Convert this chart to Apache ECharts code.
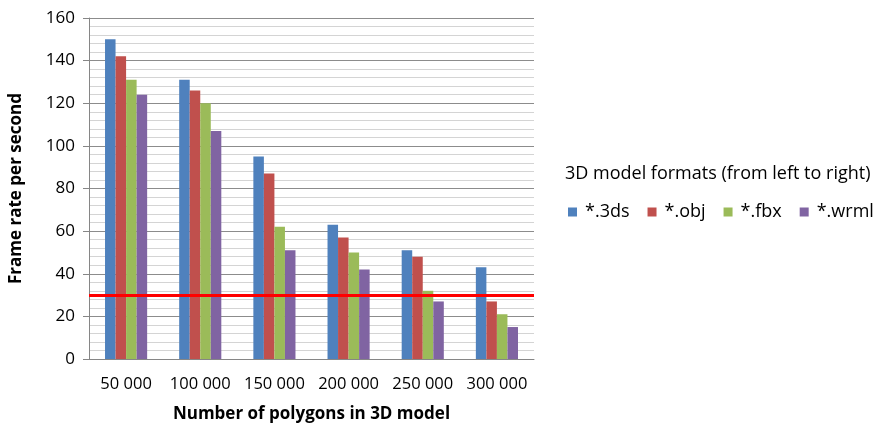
<!DOCTYPE html>
<html>
<head>
<meta charset="utf-8">
<script src="https://cdn.jsdelivr.net/npm/echarts@6/dist/echarts.min.js"></script>
<style>
  html, body { margin: 0; padding: 0; background: #fff; }
  #chart { width: 880px; height: 428px; }
</style>
</head>
<body>
<div id="chart"></div>
<script>
// Polygon counts on the x axis
const categories = ['50 000', '100 000', '150 000', '200 000', '250 000', '300 000'];

// Frame rate per second for each 3D model format
const fps3ds  = [150, 131, 95, 63, 51, 43];
const fpsObj  = [142, 126, 87, 57, 48, 27];
const fpsFbx  = [131, 120, 62, 50, 32, 21];
const fpsWrml = [124, 107, 51, 42, 27, 15];

const formatNames = ['*.3ds', '*.obj', '*.fbx', '*.wrml'];
const formatColors = ['#4F81BD', '#C0504D', '#9BBB59', '#8064A2'];

// Real-time threshold drawn as a horizontal line
const thresholdFps = 30;

const font = '"Open Sans", sans-serif';
const seriesValues = [fps3ds, fpsObj, fpsFbx, fpsWrml];

const series = seriesValues.map((vals, i) => ({
  name: formatNames[i],
  type: 'bar',
  data: vals,
  barWidth: '14.2%',
  barGap: '0%',
  barCategoryGap: '43%',
  itemStyle: { color: formatColors[i] },
  silent: true
}));

series[0].markLine = {
  silent: true,
  symbol: ['none', 'none'],
  label: { show: false },
  lineStyle: { color: '#FF0000', width: 3, type: 'solid' },
  data: [{ yAxis: thresholdFps }]
};

const chart = echarts.init(document.getElementById('chart'));
chart.setOption({
  animation: false,
  backgroundColor: '#ffffff',
  title: {
    text: '3D model formats (from left to right)',
    left: 560,
    top: 160,
    textStyle: { fontFamily: font, fontSize: 18, fontWeight: 'normal', color: '#000' }
  },
  legend: {
    left: 563,
    top: 198,
    itemWidth: 9,
    itemHeight: 9,
    itemGap: 18,
    icon: 'rect',
    textStyle: { fontFamily: font, fontSize: 18, color: '#000', padding: [0, 0, 0, 3] },
    data: formatNames
  },
  grid: { left: 83, right: 346, top: 18, bottom: 69, containLabel: false },
  xAxis: {
    type: 'category',
    data: categories,
    axisLine: { show: true, lineStyle: { color: '#868686', width: 1 } },
    axisTick: { show: false },
    axisLabel: { interval: 0, fontFamily: font, fontSize: 16.5, color: '#000', margin: 17 },
    name: 'Number of polygons in 3D model',
    nameLocation: 'middle',
    nameGap: 47,
    nameTextStyle: { fontFamily: font, fontSize: 17, fontWeight: 'bold', color: '#000' }
  },
  yAxis: {
    type: 'value',
    min: 0,
    max: 160,
    interval: 20,
    axisLine: { show: true, lineStyle: { color: '#868686', width: 1 } },
    axisTick: { show: true, length: 6, lineStyle: { color: '#868686' } },
    minorTick: { show: true, splitNumber: 5, length: 0 },
    axisLabel: { fontFamily: font, fontSize: 17, color: '#000', margin: 14 },
    splitLine: { show: true, lineStyle: { color: '#8C8C8C', width: 1 } },
    minorSplitLine: { show: true, lineStyle: { color: '#D4D4D4', width: 1 } },
    name: 'Frame rate per second',
    nameLocation: 'middle',
    nameGap: 64,
    nameRotate: 90,
    nameTextStyle: { fontFamily: font, fontSize: 17, fontWeight: 'bold', color: '#000' }
  },
  series: series
});
</script>
</body>
</html>
